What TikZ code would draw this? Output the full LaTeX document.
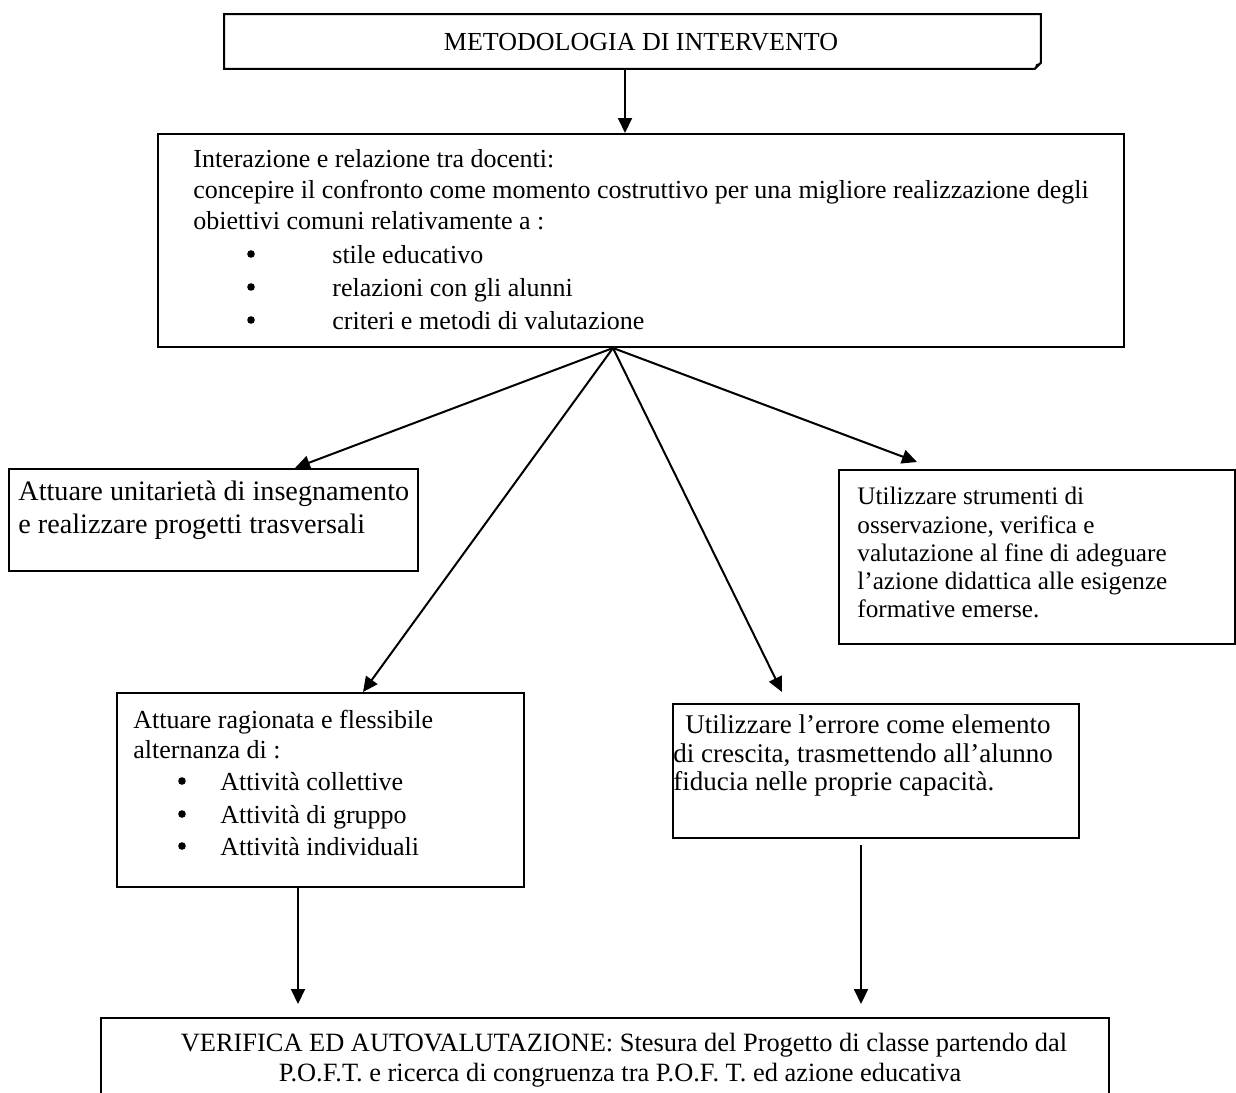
\documentclass[tikz,border=0pt]{standalone}
\usepackage{fontspec}
\setmainfont{Liberation Serif}
\usetikzlibrary{arrows.meta,calc}
\begin{document}
\begin{tikzpicture}[x=0.5pt,y=-0.5pt,
  box/.style={draw,line width=1pt,inner sep=0pt,anchor=north west},
  shell/.style={inner sep=0pt,anchor=north west},
  ln/.style={anchor=base west,inner sep=0pt,font=\fontsize{#1}{14pt}\selectfont},
  ln/.default=13pt,
  mid/.style={anchor=base,inner sep=0pt,font=\fontsize{#1}{14pt}\selectfont},
  mid/.default=13pt,
  bul/.style={circle,fill,inner sep=0pt,minimum size=3.8pt},
  arr/.style={line width=1pt,-{Triangle[length=7.5pt,width=7pt]}}]
\useasboundingbox (0,0) rectangle (1236,1092);

% boxes
\node[shell,minimum width=408pt,minimum height=27pt] (top) at (224,14) {};
\node[box,minimum width=483pt,minimum height=106.5pt] (box2) at (157,133) {};
\node[box,minimum width=204.5pt,minimum height=51pt] (A) at (8,468) {};
\node[box,minimum width=198pt,minimum height=87pt] (R) at (838,469) {};
\node[box,minimum width=203.5pt,minimum height=97pt] (BL) at (116,692) {};
\node[box,minimum width=203pt,minimum height=67pt] (BR) at (672,703) {};
\node[box,minimum width=504pt,minimum height=45pt] (VB) at (100,1017) {};

% folded-corner outline of the top box
\draw[line width=1pt] (top.north west) -- (top.north east) -- ([yshift=3pt]top.south east)
  -- ([xshift=-3pt]top.south east) -- (top.south west) -- cycle;
\fill ([xshift=-3pt]top.south east) -- ([yshift=3pt]top.south east)
  -- ([xshift=-2.3pt,yshift=2.3pt]top.south east) -- cycle;

% texts
\node[mid] (ttop) at (641,50) {METODOLOGIA DI INTERVENTO};

\node[ln] (b2a) at (193,167) {Interazione e relazione tra docenti:};
\node[ln] (b2b) at (193,198) {concepire il confronto come momento costruttivo per una migliore realizzazione degli};
\node[ln] (b2c) at (193,229) {obiettivi comuni relativamente a :};
\node[bul] (b2d1) at (251,254) {};
\node[ln] (b2d) at (332,263) {stile educativo};
\node[bul] (b2e1) at (251,287) {};
\node[ln] (b2e) at (332,296) {relazioni con gli alunni};
\node[bul] (b2f1) at (251,320) {};
\node[ln] (b2f) at (332,329) {criteri e metodi di valutazione};

\node[ln=14.1pt] (Aa) at (18,500) {Attuare unitarietà di insegnamento};
\node[ln=14.1pt] (Ab) at (18,533) {e realizzare progetti trasversali};

\node[ln=12.6pt] (Ra) at (857,504) {Utilizzare strumenti di};
\node[ln=12.6pt] (Rb) at (857,533) {osservazione, verifica e};
\node[ln=12.6pt] (Rc) at (857,561) {valutazione al fine di adeguare};
\node[ln=12.6pt] (Rd) at (857,589) {l’azione didattica alle esigenze};
\node[ln=12.6pt] (Re) at (857,617) {formative emerse.};

\node[ln] (BLa) at (133,728) {Attuare ragionata e flessibile};
\node[ln] (BLb) at (133,758) {alternanza di :};
\node[bul] (BLc1) at (182,781) {};
\node[ln] (BLc) at (220,790) {Attività collettive};
\node[bul] (BLd1) at (182,814) {};
\node[ln] (BLd) at (220,823) {Attività di gruppo};
\node[bul] (BLe1) at (182,846) {};
\node[ln] (BLe) at (220,855) {Attività individuali};

\node[ln=13.5pt] (BRa) at (685,733) {Utilizzare l’errore come elemento};
\node[ln=13.5pt] (BRb) at (673,762) {di crescita, trasmettendo all’alunno};
\node[ln=13.5pt] (BRc) at (673,790) {fiducia nelle proprie capacità.};

\node[mid=13.2pt] (VBa) at (624,1051) {VERIFICA ED AUTOVALUTAZIONE: Stesura del Progetto di classe partendo dal};
\node[mid=13.2pt] (VBb) at (620,1081) {P.O.F.T. e ricerca di congruenza tra P.O.F. T. ed azione educativa};

% connector end points
\coordinate (topout) at ($(top.south west)+(401,0)$);
\coordinate (box2in) at ($(box2.north west)+(468,0)$);
\coordinate (hub) at ($(box2.south west)+(456,0)$);
\coordinate (tipA) at ($(A.north west)+(287,0)$);
\coordinate (tipR) at ($(R.north west)+(79,-7)$);
\coordinate (tipBL) at ($(BL.north west)+(247,0)$);
\coordinate (tipBR) at ($(BR.north west)+(110,-11)$);
\coordinate (BLout) at ($(BL.south west)+(182,0)$);
\coordinate (BRout) at ($(BR.south west)+(189,6)$);
\coordinate (VBinL) at ($(VB.north west)+(198,-13)$);
\coordinate (VBinR) at ($(VB.north west)+(761,-13)$);

% connectors
\draw[arr] (topout) -- (box2in);
\draw[arr] (hub) -- (tipA);
\draw[arr] (hub) -- (tipBL);
\draw[arr] (hub) -- (tipBR);
\draw[arr] (hub) -- (tipR);
\draw[arr] (BLout) -- (VBinL);
\draw[arr] (BRout) -- (VBinR);
\end{tikzpicture}
\end{document}
